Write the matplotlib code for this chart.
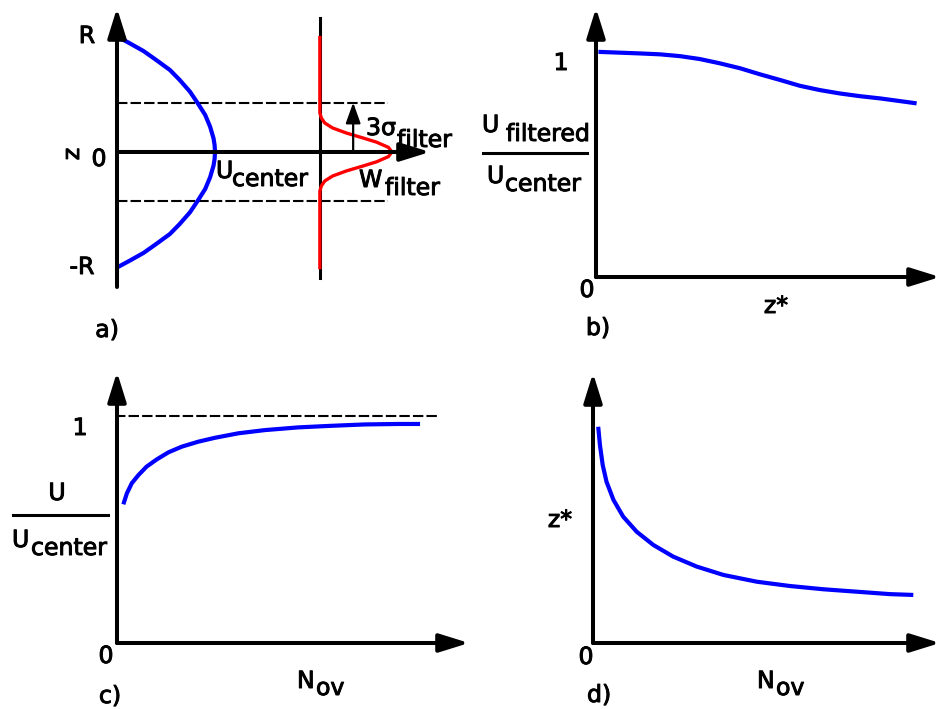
import matplotlib
matplotlib.use("Agg")
import matplotlib.pyplot as plt
import matplotlib.patheffects as pe

W, H = 941, 709
plt.rcParams['font.family'] = ['DejaVu Sans']

# ---------------- data (read from the schematic) ----------------
# a) velocity profile across the pipe (z in units of R, U in units of U_center)
z_prof = [1.0, 0.945, 0.878, 0.8, 0.713, 0.626, 0.524, 0.429, 0.322, 0.22, 0.119, 0.06, 0.0,
          -0.06, -0.119, -0.22, -0.322, -0.429, -0.524, -0.626, -0.713, -0.8, -0.878, -0.945, -1.0]
u_prof = [0.01, 0.13, 0.27, 0.40, 0.54, 0.64, 0.745, 0.82, 0.90, 0.95, 0.985, 0.996, 1.0,
          0.996, 0.985, 0.95, 0.90, 0.82, 0.745, 0.64, 0.54, 0.40, 0.27, 0.13, 0.01]
# filter weight (relative to the filter baseline)
z_filt = [1.01, 0.34, 0.296, 0.252, 0.209, 0.165, 0.122, 0.085, 0.04, 0.0,
          -0.04, -0.085, -0.122, -0.165, -0.209, -0.252, -0.296, -0.34, -1.02]
w_filt = [0.0, 0.0, 0.015, 0.05, 0.13, 0.27, 0.44, 0.58, 0.70, 0.735,
          0.70, 0.58, 0.44, 0.27, 0.13, 0.05, 0.015, 0.0, 0.0]
filter_base = 2.07
three_sigma = 0.43

# b) U_filtered / U_center vs z*
zs_b = [0.007, 0.128, 0.186, 0.244, 0.302, 0.36, 0.419, 0.477, 0.535, 0.593,
        0.651, 0.709, 0.767, 0.826, 0.884, 0.932]
ur_b = [1.001, 0.994, 0.99, 0.982, 0.969, 0.95, 0.928, 0.901, 0.876, 0.85,
        0.831, 0.816, 0.804, 0.794, 0.782, 0.772]

# c) U / U_center vs N_ov
nov_c = [0.018, 0.028, 0.042, 0.061, 0.084, 0.113, 0.146, 0.184, 0.231, 0.278,
         0.345, 0.42, 0.515, 0.61, 0.705, 0.799, 0.861]
ur_c = [0.611, 0.659, 0.704, 0.74, 0.777, 0.809, 0.84, 0.865, 0.887, 0.904,
        0.924, 0.938, 0.95, 0.957, 0.963, 0.965, 0.965]

# d) z* vs N_ov
nov_d = [0.015, 0.02, 0.028, 0.039, 0.059, 0.087, 0.126, 0.174, 0.231, 0.299,
         0.376, 0.472, 0.568, 0.664, 0.76, 0.856, 0.923]
zs_d = [0.801, 0.733, 0.659, 0.597, 0.53, 0.468, 0.412, 0.363, 0.32, 0.283,
        0.252, 0.227, 0.211, 0.199, 0.19, 0.181, 0.178]

BLUE = '#0000ff'
RED = '#ff0000'
AX_LW = 2.9
CURVE_LW = 3.0
FS = 17
STROKE = [pe.withStroke(linewidth=0.7, foreground='black')]

fig = plt.figure(figsize=(W / 100, H / 100), dpi=100)


def panel_axes(px_left, px_right, px_top, px_bottom, xlim, ylim):
    ax = fig.add_axes([px_left / W, 1 - px_bottom / H,
                       (px_right - px_left) / W, (px_bottom - px_top) / H])
    ax.set_xlim(*xlim)
    ax.set_ylim(*ylim)
    ax.axis('off')
    return ax


def arrow(ax, start, tip, lw=AX_LW, hl=0.9, hw=0.28, ms=20):
    ax.annotate('', xy=tip, xytext=start,
                arrowprops=dict(arrowstyle='-|>,head_length=%g,head_width=%g' % (hl, hw),
                                mutation_scale=ms, lw=lw, color='k',
                                shrinkA=0, shrinkB=0),
                annotation_clip=False)


def curve(ax, x, y, color=BLUE, lw=CURVE_LW, z=3):
    ax.plot(x, y, color=color, lw=lw, clip_on=False, zorder=z,
            solid_joinstyle='round', solid_capstyle='butt')


# ---------------- panel a ----------------
axA = panel_axes(117, 430, 8, 287, (0, 3.194), (-1.174, 1.252))
for zz in (three_sigma, -three_sigma):
    axA.plot([0, 2.77], [zz, zz], color='k', lw=1.5, dashes=(5, 1.5), clip_on=False)
axA.plot([filter_base, filter_base], [-1.096, 1.165], color='k', lw=2.2, clip_on=False)
curve(axA, [filter_base + w for w in w_filt], z_filt, color=RED, lw=2.4)
curve(axA, u_prof, z_prof)
arrow(axA, (0, -1.174), (0, 1.252))
arrow(axA, (0, 0), (3.194, 0))
arrow(axA, (2.41, 0), (2.41, three_sigma), lw=1.6, hl=0.7, hw=0.25, ms=18)

# ---------------- panel b ----------------
axB = panel_axes(596, 940, 8, 277, (0, 1), (0, 1.196))
curve(axB, zs_b, ur_b)
arrow(axB, (0, 0), (0, 1.196))
arrow(axB, (0, 0), (1, 0))

# ---------------- panel c ----------------
axC = panel_axes(117, 469, 372, 643, (0, 1), (0, 1.194))
axC.plot([-0.006, 0.918], [1, 1], color='k', lw=1.5, dashes=(5, 1.5), clip_on=False)
curve(axC, nov_c, ur_c)
arrow(axC, (0, 0), (0, 1.194))
arrow(axC, (0, 0), (1, 0))

# ---------------- panel d ----------------
axD = panel_axes(593, 940, 373, 643, (0, 1), (0, 1))
curve(axD, nov_d, zs_d)
arrow(axD, (0, 0), (0, 1))
arrow(axD, (0, 0), (1, 0))

# ---------------- text overlay (pixel layout) ----------------
axT = fig.add_axes([0, 0, 1, 1], zorder=5)
axT.set_xlim(0, W)
axT.set_ylim(H, 0)
axT.axis('off')
axT.patch.set_alpha(0)


def txt(x, y, s, ha='center', rot=0, va='baseline'):
    return axT.text(x, y, s, fontsize=FS, ha=ha, va=va, rotation=rot,
                    path_effects=STROKE)


def sub(x, y, main, x2, y2, subs):
    txt(x, y, main, ha='left')
    txt(x2, y2, subs, ha='left')


# panel a
txt(87, 43, 'R')
txt(99, 166, '0')
txt(82, 274, '-R')
txt(72, 154, 'z', rot=90, va='center')
sub(216, 178, 'U', 232, 186, 'center')
sub(366, 135, '3σ', 397, 147, 'filter')
sub(359, 187, 'W', 385, 195, 'filter')
txt(107, 337, 'a)')

# panel b
txt(561, 70, '1')
sub(482, 132, 'U', 506, 141, 'filtered')
axT.plot([483, 587], [152.5, 152.5], color='k', lw=2.2)
sub(487, 183, 'U', 505, 191, 'center')
txt(587, 297, '0')
txt(776, 313, 'z*')
txt(598, 335, 'b)')

# panel c
txt(80, 435, '1')
txt(57, 500, 'U')
axT.plot([13, 108], [514.5, 514.5], color='k', lw=2.2)
sub(12, 547, 'U', 31, 555, 'center')
txt(106, 663, '0')
sub(297, 688, 'N', 316, 695, 'ov')
txt(110, 703, 'c)')

# panel d
txt(560, 527, 'z*')
txt(586, 664, '0')
sub(757, 688, 'N', 776, 695, 'ov')
txt(599, 702, 'd)')

fig.savefig('out.png', dpi=100, facecolor='white')
